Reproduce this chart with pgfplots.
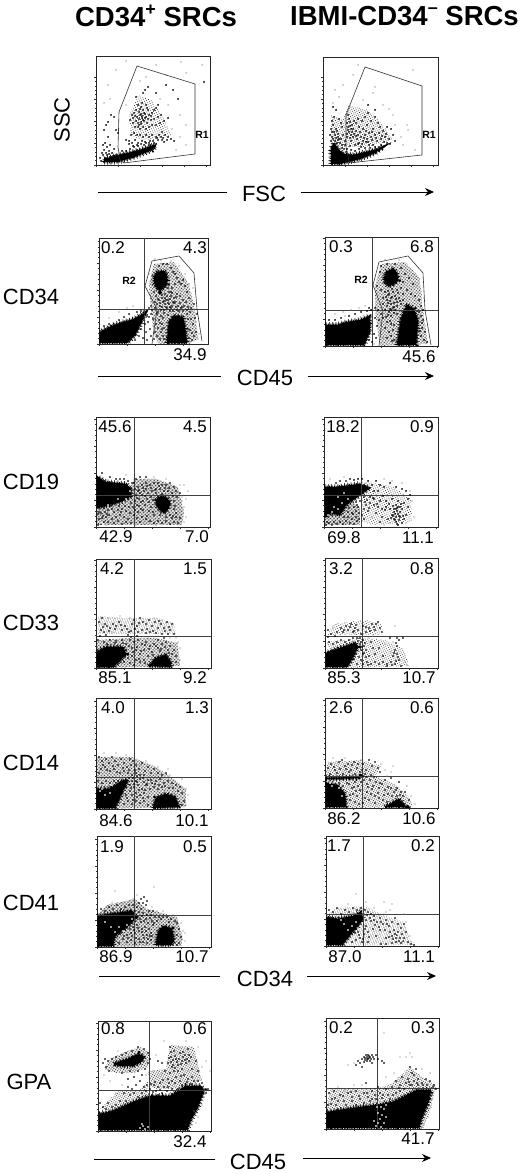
\documentclass[border=0pt]{standalone}
\usepackage{fontspec}
\setmainfont{Liberation Sans}
\usepackage{pgfplots}
\pgfplotsset{compat=1.18}
\usetikzlibrary{arrows.meta,patterns.meta}
\pgfplotsset{
  fc/.style n args={4}{
    at={(#1pt,#2pt)}, anchor=south west, scale only axis,
    width=#3pt, height=#4pt, xmin=0, xmax=#3, ymin=0, ymax=#4,
    axis line style={line width=0.9pt, black!85},
    xtick pos=bottom, ytick pos=left, tick align=outside,
    xtick={0,28,56,84,112}, ytick={0,27,54,81,108}, minor tick num=4,
    xticklabels={}, yticklabels={},
    major tick length=2pt, minor tick length=1.2pt,
    tick style={line width=0.5pt, black!80},
  },
  dot/.style={only marks, mark=*, mark size=0.7pt, black},
  fine/.style={only marks, mark=*, mark size=0.45pt, black!50},
  hole/.style={only marks, mark=*, mark size=0.7pt, white},
  % dashed thick outline gives the dense clouds a speckled edge
  blob/.style={fill=black, draw=black, line width=2.6pt, dash pattern=on 0.8pt off 0.9pt,
    preaction={draw=black, line width=5.5pt, dash pattern=on 0.6pt off 2.7pt}},
  % sparse part of a cloud: fine tilted stipple, typed dots go on top
  haze/.style={draw=none, pattern={Dots[radius=0.42pt,distance={0.75/sqrt(#1/100)*1pt},angle=23]}, pattern color=black},
  gate/.style={line width=0.6pt, black!80},
  quad/.style={line width=0.6pt, black!75},
}
\newcommand{\T}[3]{\node[font=\fontsize{17}{18}\selectfont, inner sep=0pt] at (#1pt,{1174pt-#2pt}) {#3};}
\newcommand{\RL}[3]{\node[font=\fontsize{22}{23}\selectfont, inner sep=0pt] at (#1pt,{1174pt-#2pt}) {#3};}
\newcommand{\GL}[3]{\node[font=\fontsize{10.5}{11}\selectfont\bfseries, inner sep=0pt] at (#1pt,{1174pt-#2pt}) {#3};}
\begin{document}
\begin{tikzpicture}
\path[use as bounding box] (0,0) rectangle (520pt,1174pt);

% row 1: FSC / SSC
\begin{axis}[fc={96}{1009}{114}{109}, xtick={0,22,44,66,88,110}, ytick={0,22,44,66,88}]
\addplot[haze=12] coordinates {(35,30)(33,50)(42,70)(55,65)(66,50)(75,30)(60,25)(45,25)} --cycle;
\addplot[blob] coordinates {(8,3)(8,6)(16,8)(28,11)(44,15)(58,20)(60,19)(56,15)(38,8)(21,3)} --cycle;
\addplot[gate] coordinates {(24,5)(22,18)(23,53)(41,99)(99,81)(99,11)(28,2)(24,5)};
\addplot[dot] coordinates {(40,68)(47,72)(52,78)(49,75)(42,60)(45,58)(50,60)(47,55)(52,55)(48,52)(44,50)(41,48)(43,46)(46,47)(50,48)(53,50)(56,52)(58,55)(60,57)(62,60)(40,55)(38,52)(36,50)(34,45)(37,42)(40,44)(42,42)(45,43)(48,44)(51,42)(55,45)(58,46)(62,48)(65,50)(39,38)(42,38)(44,36)(47,38)(50,36)(53,38)(56,40)(60,40)(64,42)(68,44)(72,47)(82,66)(77,75)(108,83)(70,80)(60,72)(35,30)(38,32)(41,30)(44,30)(47,28)(50,30)(53,28)(56,30)(60,28)(63,30)(66,33)(69,30)(72,28)(75,26)(78,24)(30,25)(33,24)(36,22)(39,25)(42,22)(46,24)(50,22)(54,24)(58,22)(62,25)(66,25)(10,40)(12,43)(8,35)(18,48)(15,50)(20,35)(22,32)(12,28)(9,22)(11,18)(14,20)(8,15)(10,12)(13,14)(16,12)(18,16)(6,12)(7,20)(15,8)(20,10)(24,9)(26,14)(30,14)(34,16)(38,18)(42,19)(48,20)(54,20)(60,21)(68,23)(5,4)(4,7)(8,3)};
\addplot[dot] coordinates {(43,53)(45,51)(46,49)(49,51)(47,45)(49,47)(44,56)(46,62)(51,57)(55,49)(39,49)(37,47)(43,40)(45,41)(52,46)(33,21)(37,19)(41,20)(45,21)(49,23)(53,22)(57,24)(61,27)(65,28)(67,27)(71,25)(11,10)(9,7)(13,11)(7,10)(17,9)};
\addplot[fine] coordinates {(20,95)(60,100)(85,103)(30,104)(90,92)(106,100)(12,80)(8,62)(14,66)(72,60)(84,50)(90,40)(76,36)(84,28)(70,90)(50,88)(64,66)(44,84)(30,60)(90,20)(80,15)};
\end{axis}
\begin{axis}[fc={323}{1009}{115}{108}, xtick={0,22,44,66,88,110}, ytick={0,22,44,66,88}]
\addplot[haze=15] coordinates {(8,20)(8,50)(20,45)(25,60)(45,55)(60,40)(70,25)(45,18)(20,18)} --cycle;
\addplot[blob] coordinates {(8,1)(8,16)(11,22)(15,16)(20,11)(30,10)(43,13)(55,16)(60,18)(52,12)(37,6)(25,3)(16,1)} --cycle;
\addplot[gate] coordinates {(26,4)(23,18)(23,50)(42,98)(99,79)(99,10)(26,2)(26,4)};
\addplot[dot] coordinates {(25,50)(26,46)(24,42)(27,43)(25,38)(28,36)(26,33)(29,40)(31,44)(33,42)(35,46)(30,36)(33,34)(36,38)(39,44)(42,48)(45,52)(40,36)(44,40)(48,44)(52,48)(55,42)(50,36)(46,32)(42,30)(38,28)(34,26)(30,28)(28,24)(32,20)(36,22)(40,24)(44,26)(48,28)(52,30)(56,32)(60,34)(64,38)(68,36)(62,28)(58,26)(54,24)(66,26)(70,30)(72,24)(64,22)(50,20)(46,20)(38,18)(7,30)(9,28)(12,30)(8,36)(10,40)(13,36)(9,44)(15,28)(18,26)(20,30)(22,24)(17,22)(14,34)(11,48)(10,58)(13,55)(18,42)(19,38)(24,28)(22,20)(16,46)(35,30)(28,30)(43,34)(49,33)(57,38)(45,60)(52,55)(12,24)(10,26)(14,22)(8,24)(16,26)(19,20)(21,16)(24,16)(28,15)(32,14)(36,16)(42,17)(47,17)(52,18)(58,20)};
\addplot[dot] coordinates {(27,39)(25,35)(29,33)(24,31)(31,31)(27,27)(33,29)(37,33)(41,27)(45,23)(49,25)(53,27)(11,33)(9,33)(13,27)(15,31)(11,21)(15,25)(19,17)(23,13)(27,19)(35,21)(39,21)(43,23)(59,29)(63,31)(67,21)(61,23)};
\addplot[fine] coordinates {(12,75)(10,62)(16,68)(20,80)(30,90)(52,78)(50,72)(84,40)(85,35)(72,40)(78,28)(70,50)(35,100)(90,95)(60,60)(66,56)(40,65)(92,15)(80,20)};
\end{axis}

% row 2: CD34 / CD45
\begin{axis}[fc={99}{830}{109}{106}]
\addplot[haze=28] coordinates {(52,35)(50,60)(55,80)(75,82)(90,60)(96,35)(99,5)(90,0)(60,0)(55,10)} --cycle;
\addplot[blob] coordinates {(1,1)(1,12)(15,19)(35,25)(47,32)(43,23)(36,9)(28,1)} --cycle;
\addplot[blob] coordinates {(55,67)(58,72)(65,73)(68,69)(68,60)(65,57)(61,53)(58,56)(55,61)} --cycle;
\addplot[blob] coordinates {(68,1)(70,22)(75,28)(84,27)(86,17)(88,1)} --cycle;
\addplot[quad] coordinates {(45,0)(45,106)};
\addplot[quad] coordinates {(0,35)(109,35)};
\addplot[gate] coordinates {(53,0)(58,35)(46,58)(53,83)(80,88)(95,71)(98,35)(103,3)};
\addplot[dot] coordinates {(60,78)(64,80)(68,80)(72,76)(74,72)(76,70)(78,66)(80,62)(82,60)(84,64)(86,58)(88,52)(76,60)(73,56)(70,52)(72,48)(75,46)(78,50)(81,48)(84,44)(87,42)(90,46)(66,50)(63,46)(60,44)(57,48)(55,52)(58,40)(61,38)(64,42)(67,44)(70,40)(73,38)(76,42)(79,38)(82,36)(85,38)(88,34)(92,36)(95,40)(62,34)(65,34)(68,36)(71,33)(56,36)(59,32)(62,28)(60,24)(63,20)(59,16)(62,12)(58,8)(61,5)(64,8)(65,16)(64,26)(57,20)(56,12)(55,5)(92,25)(94,20)(91,14)(95,8)(93,4)(97,12)(90,6)(96,26)(98,30)(88,30)(91,32)(5,18)(10,20)(20,24)(25,27)(30,30)(38,32)(42,33)(46,30)(48,28)(46,20)(42,15)(40,8)(36,4)(47,12)(44,6)(48,4)(50,36)(52,38)(49,22)(66,58)(69,56)(62,56)(60,52)(72,52)(68,48)(66,46)(69,44)(74,42)(66,40)(72,36)(78,34)(74,33)(80,33)(84,33)(52,30)(50,27)(54,25)(51,15)(52,8)(53,34)(56,42)(58,30)};
\addplot[dot] coordinates {(63,49)(65,43)(69,41)(71,45)(75,41)(77,37)(81,41)(67,37)(63,37)(61,41)(59,45)(77,47)(73,51)(83,37)(89,37)(71,37)(65,31)(69,29)(63,15)(65,5)(61,21)(93,11)(89,25)(89,15)};
\addplot[fine] coordinates {(56,85)(62,84)(72,83)(80,78)(86,70)(90,60)(94,56)(50,70)(20,32)(28,36)(34,38)(10,26)(92,44)(97,22)(100,10)(99,5)(56,26)(54,18)(66,28)};
\end{axis}
\begin{axis}[fc={325}{828}{113}{109}]
\addplot[haze=28] coordinates {(50,36)(50,60)(56,82)(80,84)(95,68)(98,36)(103,2)(55,0)(52,20)} --cycle;
\addplot[blob] coordinates {(1,1)(1,21)(12,21)(22,24)(35,26)(45,30)(45,15)(39,1)} --cycle;
\addplot[blob] coordinates {(59,68)(61,74)(68,77)(72,73)(73,66)(69,62)(64,60)(60,63)} --cycle;
\addplot[blob] coordinates {(72,1)(76,27)(82,41)(89,37)(93,25)(91,1)} --cycle;
\addplot[quad] coordinates {(47,0)(47,109)};
\addplot[quad] coordinates {(0,36)(113,36)};
\addplot[gate] coordinates {(54,0)(58,35)(48,61)(54,84)(83,90)(98,73)(100,36)(106,1)};
\addplot[dot] coordinates {(55,74)(56,80)(62,82)(70,82)(76,78)(80,72)(84,68)(88,62)(78,64)(76,58)(72,56)(68,54)(64,52)(60,54)(56,56)(52,60)(58,48)(62,46)(66,48)(70,50)(74,48)(78,52)(82,56)(86,52)(90,50)(94,46)(58,42)(62,40)(66,42)(68,38)(72,40)(76,42)(60,36)(64,34)(70,36)(66,30)(72,32)(50,38)(53,36)(56,32)(54,26)(58,28)(62,24)(66,22)(68,16)(66,10)(69,6)(64,14)(62,8)(60,18)(50,28)(52,20)(49,12)(51,8)(47,4)(44,6)(96,30)(98,26)(97,18)(96,10)(99,6)(98,36)(94,34)(96,40)(100,14)(102,4)(4,26)(10,26)(16,28)(24,30)(30,32)(36,34)(42,35)(46,36)(44,38)(72,44)(66,36)(78,46)};
\addplot[dot] coordinates {(63,51)(67,49)(65,45)(69,43)(63,43)(61,49)(71,47)(73,53)(67,57)(63,55)(75,45)(69,39)(65,37)(63,31)(69,33)(61,29)(65,25)(69,21)(67,5)(97,23)(95,15)};
\addplot[fine] coordinates {(10,32)(18,34)(26,36)(34,38)(40,40)(20,30)(60,86)(74,86)(88,72)(92,60)(99,48)(90,68)(46,24)(49,2)(57,16)(58,8)(56,22)};
\end{axis}

% row 3: CD19 / CD34
\begin{axis}[fc={96}{647}{114}{110}]
\addplot[haze=35] coordinates {(0,2)(0,20)(30,25)(38,48)(60,48)(82,40)(88,15)(86,2)} --cycle;
\addplot[blob] coordinates {(1,19)(1,50)(10,45)(30,43)(35,38)(35,31)(27,26)(13,22)} --cycle;
\addplot[blob] coordinates {(60,27)(65,31)(71,29)(74,24)(72,18)(68,14)(62,19)(60,24)} --cycle;
\addplot[quad] coordinates {(38,0)(38,110)};
\addplot[quad] coordinates {(0,32)(114,32)};
\addplot[dot] coordinates {(2,2)(5,3)(8,5)(3,8)(6,9)(10,10)(2,13)(5,14)(9,15)(13,12)(16,8)(12,5)(18,4)(22,6)(26,3)(30,5)(20,10)(24,12)(28,10)(32,8)(35,4)(18,15)(22,17)(26,18)(30,16)(34,14)(38,12)(42,15)(46,10)(50,8)(54,6)(58,4)(62,6)(66,4)(70,6)(74,3)(78,5)(82,4)(84,9)(80,10)(76,9)(44,5)(41,9)(37,20)(41,22)(45,18)(49,22)(53,16)(47,26)(43,28)(39,26)(51,28)(55,30)(35,24)(40,32)(44,34)(48,36)(52,34)(56,36)(60,38)(64,38)(68,36)(72,36)(76,34)(80,36)(84,34)(39,38)(42,40)(46,42)(50,44)(54,42)(58,44)(62,44)(66,42)(70,42)(74,44)(78,40)(81,30)(78,26)(78,18)(80,14)(74,12)(70,10)(64,12)(58,12)(55,20)(32,46)(28,48)(24,48)(20,48)(14,50)(6,54)(36,44)(40,48)(44,50)(50,50)(38,44)(62,30)(60,34)(66,33)(16,18)(23,21)(33,20)(12,17)(8,19)(3,15)(42,36)(46,32)(50,38)};
\addplot[dot] coordinates {(41,29)(45,25)(49,31)(53,25)(57,27)(43,37)(47,39)(51,41)(55,39)(59,37)(63,41)(69,39)(73,39)(77,31)(79,21)(77,11)(57,15)(51,11)(47,17)(43,21)(39,17)(29,21)(25,15)(15,21)(11,13)(7,11)};
\addplot[fine] coordinates {(86,30)(88,20)(90,10)(88,5)(86,26)(90,28)(92,36)(84,42)(88,42)(58,50)(70,48)(10,2)(40,2)(48,3)(60,2)(30,52)};
\addplot[hole] coordinates {(5,4)(7,3)(15,15)(12,22)(30,28)(34,36)(22,28)};
\end{axis}
\begin{axis}[fc={324}{647}{114}{110}]
\addplot[haze=35] coordinates {(0,2)(0,10)(20,30)(36,20)(36,2)} --cycle;
\addplot[haze=13] coordinates {(38,40)(45,45)(70,40)(87,28)(88,5)(50,2)(38,5)} --cycle;
\addplot[blob] coordinates {(1,10)(1,40)(12,40)(36,43)(45,39)(36,32)(22,22)(16,12)(7,14)} --cycle;
\addplot[quad] coordinates {(37,0)(37,110)};
\addplot[quad] coordinates {(0,32)(114,32)};
\addplot[dot] coordinates {(2,2)(5,4)(8,2)(3,5)(10,5)(13,3)(16,5)(19,3)(22,6)(26,4)(30,3)(33,6)(20,10)(24,10)(28,8)(32,10)(35,8)(24,15)(28,14)(32,16)(35,14)(30,20)(34,20)(36,26)(32,25)(40,30)(43,27)(46,24)(50,22)(54,20)(58,18)(62,20)(66,18)(70,15)(72,18)(74,20)(76,15)(78,18)(72,22)(68,12)(70,8)(72,5)(74,2)(78,4)(80,8)(76,10)(82,12)(84,20)(80,24)(84,28)(86,32)(74,26)(68,28)(62,26)(56,26)(50,28)(46,30)(42,22)(40,18)(38,12)(44,16)(40,8)(52,14)(58,10)(56,5)(64,8)(40,36)(44,38)(48,42)(52,46)(56,42)(60,40)(66,44)(72,40)(78,38)(82,36)(50,36)(54,36)(44,46)(38,48)(34,48)(30,47)(26,48)(22,46)(16,46)(12,44)(74,13)(72,10)(70,18)(76,20)(73,16)};
\addplot[dot] coordinates {(71,13)(75,11)(73,19)(69,21)(77,23)(71,7)(73,3)(75,7)(69,11)(67,9)(41,25)(45,19)(49,29)(53,23)(61,17)(65,23)(59,31)(79,11)(29,13)(25,19)(33,22)};
\addplot[fine] coordinates {(60,48)(68,46)(78,44)(88,26)(90,10)(66,4)(60,2)(82,4)(86,36)(42,44)(48,10)(6,48)(20,50)};
\addplot[hole] coordinates {(4,12)(8,15)(10,20)(14,18)(18,24)(14,30)(24,28)(20,34)};
\end{axis}

% row 4: CD33 / CD34
\begin{axis}[fc={96}{506}{115}{109}]
\addplot[haze=16] coordinates {(2,34)(2,52)(30,50)(60,50)(78,45)(80,34)} --cycle;
\addplot[haze=30] coordinates {(0,28)(35,30)(60,30)(82,25)(84,2)(0,0)} --cycle;
\addplot[blob] coordinates {(1,1)(1,16)(10,21)(27,21)(30,14)(23,6)(17,1)} --cycle;
\addplot[blob] coordinates {(53,2)(60,10)(70,13)(75,5)(75,1)} --cycle;
\addplot[quad] coordinates {(38,0)(38,109)};
\addplot[quad] coordinates {(0,32)(115,32)};
\addplot[dot] coordinates {(3,46)(6,50)(9,44)(5,38)(8,36)(11,42)(14,40)(17,44)(20,42)(23,46)(26,38)(29,42)(33,36)(36,44)(38,48)(41,42)(44,50)(47,46)(50,44)(53,48)(56,42)(59,46)(62,40)(65,44)(68,40)(71,46)(74,38)(76,44)(78,34)(42,36)(46,38)(50,35)(54,36)(60,35)(66,34)(72,34)(2,28)(8,26)(14,28)(20,27)(26,28)(30,24)(34,28)(38,26)(42,28)(46,24)(50,26)(54,22)(58,24)(62,20)(66,24)(70,26)(74,22)(78,18)(80,12)(80,6)(36,20)(40,18)(44,14)(48,18)(52,12)(56,16)(36,12)(40,8)(44,6)(48,8)(34,5)(32,10)(30,18)(26,12)(28,6)(38,3)(60,22)(64,17)(72,18)(76,14)(62,28)(68,30)(32,33)(35,31)(41,32)(4,32)(10,33)};
\addplot[dot] coordinates {(7,41)(13,37)(19,39)(25,43)(31,39)(35,37)(39,39)(43,45)(51,39)(57,37)(63,47)(69,37)(73,41)(41,21)(45,17)(49,23)(53,19)(57,13)(43,9)(37,16)(33,22)(27,25)(19,25)(11,24)(65,19)(69,21)(73,15)(49,5)};
\addplot[fine] coordinates {(12,50)(24,52)(34,50)(58,50)(66,48)(80,30)(84,20)(82,26)(84,8)(52,30)(16,36)(6,44)(44,44)(74,30)};
\end{axis}
\begin{axis}[fc={325}{506}{113}{110}]
\addplot[haze=12] coordinates {(3,33)(8,44)(40,48)(58,44)(55,33)} --cycle;
\addplot[haze=14] coordinates {(0,26)(38,30)(60,28)(78,20)(84,2)(20,0)} --cycle;
\addplot[blob] coordinates {(1,1)(1,15)(15,20)(30,25)(33,21)(27,9)(22,1)} --cycle;
\addplot[quad] coordinates {(37,0)(37,110)};
\addplot[quad] coordinates {(0,32)(113,32)};
\addplot[dot] coordinates {(3,38)(6,34)(12,36)(16,40)(18,36)(21,42)(23,38)(26,44)(28,36)(30,40)(33,38)(36,34)(38,42)(41,36)(44,40)(47,44)(50,38)(53,46)(55,40)(57,36)(4,26)(8,24)(12,26)(16,28)(20,26)(24,28)(28,30)(32,30)(35,30)(38,28)(40,25)(36,26)(39,22)(36,18)(41,18)(44,12)(38,14)(36,8)(32,4)(38,4)(42,6)(46,4)(50,6)(54,4)(58,6)(62,4)(66,6)(68,12)(70,18)(72,22)(74,28)(70,4)(74,8)(76,2)(72,14)(48,20)(50,14)(46,26)(54,20)(58,12)(30,14)(34,11)(62,2)(72,30)(78,30)(3,31)(65,30)(10,32)};
\addplot[dot] coordinates {(25,41)(29,37)(31,43)(19,38)(41,41)(45,37)(49,41)(51,44)(35,24)(37,21)(33,27)(39,15)(29,9)(41,11)(43,3)(67,3)(71,7)(73,11)(69,15)(71,25)};
\addplot[fine] coordinates {(30,34)(44,30)(60,24)(66,16)(80,6)(82,3)(68,26)(8,40)(70,42)(48,32)};
\end{axis}

% row 5: CD14 / CD34
\begin{axis}[fc={96}{365}{115}{111}]
\addplot[haze=30] coordinates {(0,30)(0,52)(36,52)(60,42)(75,32)(90,20)(90,2)(0,0)} --cycle;
\addplot[blob] coordinates {(1,1)(1,20)(13,20)(28,29)(32,29)(24,12)(19,1)} --cycle;
\addplot[blob] coordinates {(57,1)(60,11)(70,15)(79,12)(83,2)} --cycle;
\addplot[quad] coordinates {(38,0)(38,111)};
\addplot[quad] coordinates {(0,32)(115,32)};
\addplot[dot] coordinates {(3,52)(6,48)(10,50)(13,46)(16,52)(19,48)(22,44)(25,50)(28,46)(31,42)(34,50)(37,48)(5,40)(9,42)(14,38)(18,40)(24,36)(28,38)(32,36)(36,34)(3,36)(40,44)(43,40)(46,46)(49,38)(52,42)(55,36)(58,40)(62,36)(66,34)(70,36)(40,36)(44,34)(48,34)(2,28)(6,26)(10,28)(14,26)(18,28)(22,28)(26,26)(36,28)(40,28)(44,30)(48,27)(52,29)(56,26)(60,28)(64,30)(68,26)(72,28)(76,26)(80,24)(84,22)(86,16)(88,8)(82,18)(38,22)(42,24)(46,20)(50,24)(54,20)(58,22)(62,20)(66,22)(34,24)(30,22)(36,14)(40,16)(44,14)(48,16)(52,12)(40,8)(44,6)(48,8)(36,5)(32,8)(28,5)(52,4)(38,25)(41,12)(86,4)(34,18)(30,14)(26,18)};
\addplot[dot] coordinates {(7,44)(11,39)(17,43)(21,37)(27,41)(33,39)(35,44)(39,39)(41,33)(37,31)(33,31)(47,31)(51,25)(55,29)(59,25)(63,24)(69,23)(73,21)(77,21)(43,19)(47,11)(49,19)(37,9)(31,11)(35,21)(41,27)};
\addplot[fine] coordinates {(8,56)(20,56)(30,54)(60,34)(74,34)(90,20)(92,14)(72,40)(62,42)(50,48)(56,32)(86,30)(44,44)(12,34)(76,22)(90,4)};
\addplot[hole] coordinates {(4,18)(9,14)(16,24)(14,16)(6,20)};
\end{axis}
\begin{axis}[fc={325}{366}{113}{110}]
\addplot[haze=20] coordinates {(0,32)(3,46)(36,48)(56,42)(50,32)(70,24)(85,10)(88,1)(22,0)} --cycle;
\addplot[blob] coordinates {(1,1)(1,25)(12,23)(20,14)(21,1)} --cycle;
\addplot[blob] coordinates {(1,30)(34,31)(34,30)(1,29)} --cycle;
\addplot[blob] coordinates {(60,1)(74,9)(79,3)(81,1)} --cycle;
\addplot[quad] coordinates {(37,0)(37,110)};
\addplot[quad] coordinates {(0,32)(113,32)};
\addplot[dot] coordinates {(3,40)(6,44)(10,38)(14,46)(17,48)(20,42)(23,44)(26,38)(29,46)(32,40)(35,36)(38,44)(41,38)(44,48)(47,42)(50,46)(53,40)(55,36)(5,34)(12,35)(18,34)(24,36)(30,34)(40,34)(46,33)(39,28)(42,24)(45,28)(48,22)(51,26)(54,20)(57,24)(60,18)(63,14)(66,20)(69,16)(72,12)(60,28)(66,30)(74,26)(72,20)(76,16)(78,12)(42,16)(46,14)(50,12)(54,10)(58,8)(62,6)(44,8)(40,10)(50,5)(24,24)(27,20)(30,26)(33,22)(28,14)(32,12)(35,18)(25,8)(30,6)(34,4)(38,5)(14,25)(18,22)(22,25)(36,26)(38,32)(84,8)(80,16)};
\addplot[dot] coordinates {(9,41)(15,39)(21,39)(27,43)(33,44)(37,38)(41,31)(43,21)(47,19)(49,31)(53,15)(55,25)(59,13)(63,21)(67,12)(71,18)(75,13)(25,13)(29,21)(31,17)};
\addplot[fine] coordinates {(8,50)(20,50)(36,48)(56,44)(60,38)(68,42)(82,22)(86,12)(90,4)(66,36)(48,32)(14,40)(62,32)};
\addplot[hole] coordinates {(7,22)(14,20)(10,26)(5,25)(17,12)};
\end{axis}

% row 6: CD41 / CD34
\begin{axis}[fc={97}{227}{114}{111}]
\addplot[haze=33] coordinates {(0,32)(10,42)(38,48)(50,38)(80,30)(86,8)(84,1)(0,0)} --cycle;
\addplot[blob] coordinates {(1,1)(1,31)(12,33)(34,36)(40,30)(31,21)(18,11)(16,1)} --cycle;
\addplot[blob] coordinates {(59,2)(61,15)(67,21)(75,18)(77,6)(74,2)} --cycle;
\addplot[quad] coordinates {(37,0)(37,111)};
\addplot[quad] coordinates {(0,32)(114,32)};
\addplot[dot] coordinates {(4,38)(8,36)(12,40)(16,38)(20,42)(24,38)(28,40)(32,42)(36,42)(40,40)(44,38)(38,36)(42,35)(46,34)(50,32)(54,32)(58,30)(62,30)(66,30)(70,30)(74,28)(44,48)(46,44)(49,42)(47,50)(50,46)(42,44)(52,36)(56,36)(43,28)(47,26)(51,24)(55,26)(48,20)(52,18)(45,18)(40,22)(36,20)(34,14)(38,14)(42,16)(46,12)(50,12)(54,14)(30,12)(26,8)(30,5)(34,7)(38,4)(42,8)(46,5)(50,4)(54,7)(24,14)(28,18)(80,24)(82,18)(84,10)(80,12)(78,26)(82,4)(60,26)(64,28)(72,25)(56,22)(80,2)(22,4)};
\addplot[dot] coordinates {(33,18)(37,17)(41,19)(45,15)(49,16)(53,11)(31,9)(27,11)(35,11)(39,9)(43,5)(47,9)(51,8)(55,11)(49,28)(53,29)(45,31)(57,24)(44,25)};
\addplot[fine] coordinates {(15,44)(25,44)(36,48)(55,40)(66,36)(76,32)(86,16)(88,14)(84,24)(18,56)(60,36)(88,6)(40,52)(57,60)};
\addplot[hole] coordinates {(26,16)(22,20)(30,22)(18,15)(14,20)(35,28)(8,25)};
\end{axis}
\begin{axis}[fc={326}{228}{113}{110}]
\addplot[haze=16] coordinates {(0,30)(10,38)(38,40)(60,30)(78,24)(84,6)(90,1)(0,0)} --cycle;
\addplot[blob] coordinates {(1,1)(1,29)(11,27)(27,30)(35,34)(37,27)(30,18)(23,10)(16,1)} --cycle;
\addplot[quad] coordinates {(37,0)(37,110)};
\addplot[quad] coordinates {(0,32)(113,32)};
\addplot[dot] coordinates {(3,36)(7,34)(11,38)(15,32)(19,36)(23,34)(27,38)(31,36)(35,38)(39,36)(42,34)(45,32)(48,30)(44,28)(48,26)(51,24)(54,28)(57,22)(60,26)(63,20)(66,24)(69,28)(72,22)(75,18)(78,22)(76,12)(72,14)(68,16)(64,14)(70,8)(74,8)(78,8)(80,14)(70,4)(75,3)(66,3)(60,2)(55,2)(60,8)(66,10)(40,20)(42,14)(38,12)(34,8)(30,6)(36,4)(26,4)(32,14)(42,4)(40,26)(54,16)(50,10)(82,4)(85,2)(88,1)};
\addplot[dot] coordinates {(41,31)(45,25)(49,21)(53,19)(47,17)(43,9)(39,17)(33,11)(29,13)(37,7)(71,11)(73,5)(77,5)(69,12)(67,7)(63,9)(59,16)(55,24)(61,22)};
\addplot[fine] coordinates {(58,32)(64,36)(78,32)(58,44)(60,34)(80,24)(84,10)(48,38)(22,42)(40,44)(66,42)(30,52)};
\addplot[hole] coordinates {(30,24)(26,20)(22,16)(18,22)(15,26)(72,12)(76,6)};
\end{axis}

% row 7: GPA / CD45
\begin{axis}[fc={98}{43}{113}{110}]
\addplot[haze=25] coordinates {(6,62)(12,72)(30,80)(42,84)(52,78)(50,64)(36,58)(18,58)} --cycle;
\addplot[haze=22] coordinates {(68,62)(72,86)(96,84)(104,50)(80,42)(60,42)(52,44)(50,60)} --cycle;
\addplot[haze=18] coordinates {(2,22)(20,40)(40,40)(50,50)(50,30)(20,20)} --cycle;
\addplot[blob] coordinates {(1,1)(1,17)(15,20)(35,29)(52,35)(72,35)(88,45)(102,45)(106,41)(100,24)(93,11)(89,1)} --cycle;
\addplot[blob] coordinates {(16,67)(20,69)(30,72)(41,77)(46,74)(43,69)(35,65)(22,65)} --cycle;
\addplot[quad] coordinates {(51,0)(51,110)};
\addplot[quad] coordinates {(0,41)(113,41)};
\addplot[dot] coordinates {(5,68)(8,64)(10,70)(11,60)(14,72)(18,74)(24,76)(28,78)(34,80)(40,84)(46,82)(50,78)(52,72)(50,68)(47,62)(40,60)(32,60)(24,58)(7,72)(70,68)(73,74)(76,80)(72,84)(78,72)(82,78)(84,70)(87,76)(90,82)(93,74)(88,68)(80,66)(74,64)(72,58)(76,60)(80,60)(84,62)(60,70)(64,68)(94,62)(98,70)(100,60)(70,52)(74,50)(78,54)(82,50)(86,56)(90,52)(94,54)(62,48)(66,44)(70,44)(56,46)(60,44)(74,42)(80,42)(84,46)(96,50)(100,50)(104,48)(52,42)(55,39)(58,40)(62,41)(48,40)(44,38)(40,34)(36,38)(32,36)(28,30)(26,38)(30,44)(34,42)(38,46)(22,30)(18,26)(14,24)(8,22)(5,24)(10,28)(2,28)(42,50)(44,56)(36,54)(30,52)(49,46)(54,36)(64,38)(60,36)(69,40)(46,44)(108,38)(110,42)};
\addplot[dot] coordinates {(75,71)(79,69)(77,75)(81,72)(85,74)(83,67)(89,72)(91,76)(73,69)(75,66)(87,71)(91,70)(77,63)(71,73)(73,79)(85,79)(67,60)(71,48)(77,48)(65,51)(83,55)(89,49)(93,47)(57,49)(53,47)};
\addplot[fine] coordinates {(6,56)(12,50)(18,38)(24,46)(48,56)(56,60)(64,58)(90,60)(104,64)(108,70)(58,76)(66,90)(88,90)(100,84)(96,20)(100,14)(104,26)(106,34)(98,8)(94,6)(112,60)(20,80)};
\addplot[hole] coordinates {(42,3)(45,5)(47,2)(44,7)(50,4)};
\end{axis}
\begin{axis}[fc={326}{45}{113}{111}]
\addplot[haze=20] coordinates {(0,20)(4,40)(50,40)(66,46)(84,62)(96,52)(110,44)(105,20)(97,0)} --cycle;
\addplot[blob] coordinates {(1,1)(1,17)(14,19)(34,22)(51,24)(67,27)(81,34)(91,39)(105,39)(102,26)(95,9)(93,1)} --cycle;
\addplot[quad] coordinates {(51,0)(51,111)};
\addplot[quad] coordinates {(0,41)(113,41)};
\addplot[dot] coordinates {(36,70)(38,72)(40,74)(42,70)(44,72)(46,74)(48,70)(41,68)(44,68)(38,67)(34,66)(32,68)(30,64)(46,66)(50,74)(52,70)(56,68)(58,66)(39,71)(42,74)(36,62)(40,46)(2,24)(6,30)(10,24)(14,34)(18,28)(22,36)(26,32)(30,38)(34,30)(38,36)(42,32)(46,38)(50,30)(54,36)(58,28)(62,34)(66,42)(70,36)(74,44)(78,40)(82,50)(84,44)(86,56)(88,48)(90,60)(92,50)(96,46)(100,50)(104,48)(108,44)(110,40)(106,36)(104,30)(80,46)(74,38)(70,48)(76,52)(86,44)(92,44)(84,62)(88,54)(38,26)(44,28)(56,31)(60,40)(52,42)(3,36)(8,38)(12,28)(26,28)(30,24)(20,24)(46,30)(64,30)};
\addplot[dot] coordinates {(43,71)(41,72)(45,70)(47,72)(43,73)(39,69)(41,70)(5,25)(9,31)(17,33)(25,37)(33,33)(41,36)(49,34)(57,34)(67,34)(73,41)(83,47)(91,46)(97,44)(101,44)(107,42)};
\addplot[fine] coordinates {(12,42)(20,40)(28,44)(36,44)(84,76)(86,72)(80,72)(96,60)(104,56)(60,52)(68,56)(28,66)(22,64)(18,38)(2,40)(58,96)(100,20)(102,12)(98,4)(74,72)};
\addplot[hole] coordinates {(50,3)(52,6)(55,2)(48,8)(54,10)(56,14)(52,16)(58,20)(55,22)(60,12)(53,26)(57,28)(51,22)(58,6)(60,24)};
\end{axis}

% titles and text
\node[font=\fontsize{27.5}{28}\selectfont\bfseries, inner sep=0pt] at (156pt,{1174pt-16pt}) {CD34\raisebox{.38em}{\fontsize{18}{18}\selectfont +} SRCs};
\node[font=\fontsize{27.5}{28}\selectfont\bfseries, inner sep=0pt] at (404.5pt,{1174pt-16pt}) {IBMI-CD34\raisebox{.42em}{\fontsize{18}{18}\selectfont –} SRCs};
\node[font=\fontsize{22}{23}\selectfont, inner sep=0pt, rotate=90] at (62pt,{1174pt-120pt}) {SSC};
\RL{264}{194}{FSC}
\RL{31}{297}{CD34}
\RL{265}{378}{CD45}
\RL{31}{482}{CD19}
\RL{31}{623}{CD33}
\RL{31}{763}{CD14}
\RL{31}{903}{CD41}
\RL{265}{979}{CD34}
\RL{29}{1082}{GPA}
\RL{258}{1162}{CD45}
\GL{202}{135}{R1}
\GL{429}{135}{R1}
\GL{129}{281}{R2}
\GL{361}{280}{R2}
\T{113}{248}{0.2}\T{195}{248}{4.3}\T{190}{355}{34.9}
\T{341}{247}{0.3}\T{422}{247}{6.8}\T{419}{357}{45.6}
\T{115}{427}{45.6}\T{195}{427}{4.5}\T{116}{537}{42.9}\T{197}{537}{7.0}
\T{343}{427}{18.2}\T{422}{427}{0.9}\T{344}{538}{69.8}\T{418}{538}{11.1}
\T{112}{569}{4.2}\T{195}{569}{1.5}\T{115}{678}{85.1}\T{195}{678}{9.2}
\T{341}{569}{3.2}\T{422}{569}{0.8}\T{344}{678}{85.3}\T{419}{678}{10.7}
\T{113}{708}{4.0}\T{197}{708}{1.3}\T{116}{821}{84.6}\T{192}{821}{10.1}
\T{341}{708}{2.6}\T{422}{708}{0.6}\T{344}{819}{86.2}\T{419}{819}{10.6}
\T{112}{847}{1.9}\T{195}{847}{0.5}\T{116}{957}{86.9}\T{192}{957}{10.7}
\T{339}{846}{1.7}\T{423}{846}{0.2}\T{345}{957}{87.0}\T{419}{957}{11.1}
\T{113}{1029}{0.8}\T{195}{1029}{0.6}\T{190}{1142}{32.4}
\T{341}{1028}{0.2}\T{423}{1028}{0.3}\T{418}{1139}{41.7}
% arrows
\draw[line width=0.9pt] (98pt,{1174pt-192pt}) -- (227pt,{1174pt-192pt});
\draw[line width=0.9pt,-{Stealth[length=9pt,width=8pt]}] (301pt,{1174pt-192pt}) -- (434pt,{1174pt-192pt});
\draw[line width=0.9pt] (98pt,{1174pt-376pt}) -- (221pt,{1174pt-376pt});
\draw[line width=0.9pt,-{Stealth[length=9pt,width=8pt]}] (308pt,{1174pt-376pt}) -- (434pt,{1174pt-376pt});
\draw[line width=0.9pt] (99pt,{1174pt-976pt}) -- (220pt,{1174pt-976pt});
\draw[line width=0.9pt,-{Stealth[length=9pt,width=8pt]}] (307pt,{1174pt-976pt}) -- (436pt,{1174pt-976pt});
\draw[line width=0.9pt] (94pt,{1174pt-1159pt}) -- (215pt,{1174pt-1159pt});
\draw[line width=0.9pt,-{Stealth[length=9pt,width=8pt]}] (303pt,{1174pt-1158pt}) -- (431pt,{1174pt-1158pt});
\end{tikzpicture}
\end{document}
